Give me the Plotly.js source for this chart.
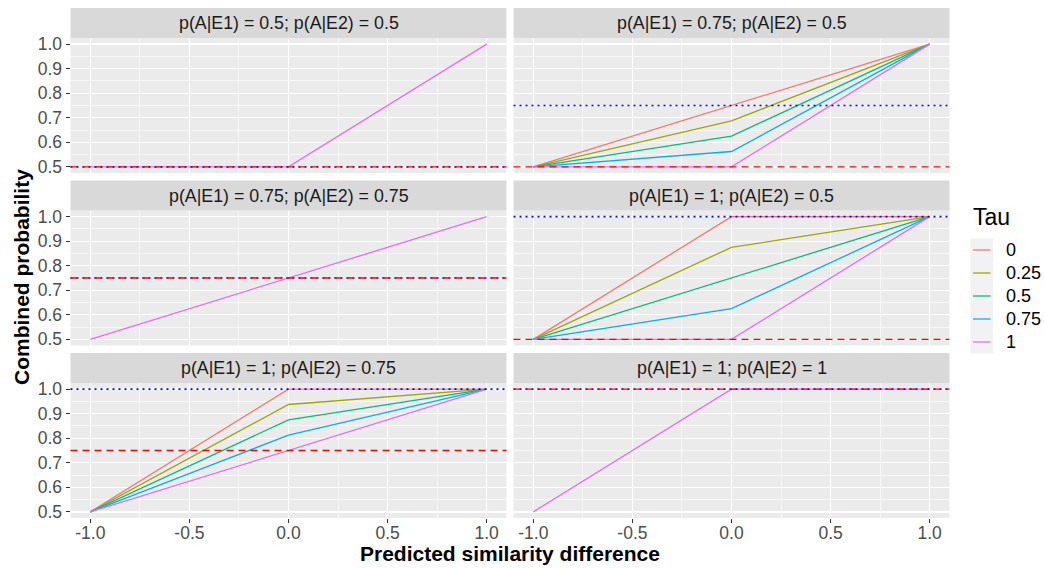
<!DOCTYPE html>
<html>
<head>
<meta charset="utf-8">
<script src="https://cdn.plot.ly/plotly-3.0.1.min.js"></script>
<style>
  html, body { margin: 0; padding: 0; background: #ffffff; }
  #chart { width: 1044px; height: 568px; }
</style>
</head>
<body>
<div id="chart"></div>
<script>
// ---------------- data ----------------
const xVals = [-1, 0, 1];
const tauLabels = ['0', '0.25', '0.5', '0.75', '1'];
const pE1 = [0.5, 0.75, 0.75, 1, 1, 1];
const pE2 = [0.5, 0.5, 0.75, 0.5, 0.75, 1];

// combined probability per panel, one row per tau (0, 0.25, 0.5, 0.75, 1), columns = xVals
const panel1 = [[0.5, 0.5, 1.0], [0.5, 0.5, 1.0], [0.5, 0.5, 1.0], [0.5, 0.5, 1.0], [0.5, 0.5, 1.0]];
const panel2 = [[0.5, 0.75, 1.0], [0.5, 0.6875, 1.0], [0.5, 0.625, 1.0], [0.5, 0.5625, 1.0], [0.5, 0.5, 1.0]];
const panel3 = [[0.5, 0.75, 1.0], [0.5, 0.75, 1.0], [0.5, 0.75, 1.0], [0.5, 0.75, 1.0], [0.5, 0.75, 1.0]];
const panel4 = [[0.5, 1.0, 1.0], [0.5, 0.875, 1.0], [0.5, 0.75, 1.0], [0.5, 0.625, 1.0], [0.5, 0.5, 1.0]];
const panel5 = [[0.5, 1.0, 1.0], [0.5, 0.9375, 1.0], [0.5, 0.875, 1.0], [0.5, 0.8125, 1.0], [0.5, 0.75, 1.0]];
const panel6 = [[0.5, 1.0, 1.0], [0.5, 1.0, 1.0], [0.5, 1.0, 1.0], [0.5, 1.0, 1.0], [0.5, 1.0, 1.0]];
const panels = [panel1, panel2, panel3, panel4, panel5, panel6];

const xTickVals = [-1, -0.5, 0, 0.5, 1];
const xTickText = ['-1.0', '-0.5', '0.0', '0.5', '1.0'];
const xMinorVals = [-0.75, -0.25, 0.25, 0.75];
const yTickVals = [0.5, 0.6, 0.7, 0.8, 0.9, 1.0];
const yTickText = ['0.5', '0.6', '0.7', '0.8', '0.9', '1.0'];
const yMinorVals = [0.55, 0.65, 0.75, 0.85, 0.95];

// ---------------- styles / geometry ----------------
const tauColors = ['#F8766D', '#A3A500', '#00BF7D', '#00B0F6', '#E76BF3'];
const W = 1044, H = 568;
const FONT = 'Liberation Sans, Arial, Helvetica, sans-serif';
const colPx = [[70.5, 506.5], [513.5, 949.5]];
const rowPx = [[38, 173], [210.5, 345.5], [383, 518]];
const stripPx = [[8, 38], [180.5, 210.5], [353, 383]];
const px2x = p => p / W;
const px2y = p => 1 - p / H;

const data = [];
const layout = {
  width: W, height: H,
  margin: {l: 0, r: 0, t: 0, b: 0, pad: 0},
  paper_bgcolor: '#FFFFFF',
  plot_bgcolor: '#EBEBEB',
  font: {family: FONT, color: '#4D4D4D', size: 17.5},
  showlegend: false,
  shapes: [],
  annotations: []
};

// ---------------- legend (ggplot-style guide) ----------------
const legKeyTop = 238.5, legKeyH = 23, legKeyX0 = 970.5, legKeyX1 = 993;
layout.shapes.push({
  type: 'rect', xref: 'paper', yref: 'paper', layer: 'below',
  x0: px2x(legKeyX0), x1: px2x(legKeyX1),
  y0: px2y(legKeyTop + legKeyH * tauLabels.length), y1: px2y(legKeyTop),
  fillcolor: '#F2F2F2', line: {width: 0}
});
layout.annotations.push({
  xref: 'paper', yref: 'paper', x: px2x(971), y: px2y(217),
  xanchor: 'left', yanchor: 'middle', showarrow: false,
  text: 'Tau', font: {family: FONT, size: 23, color: '#000000'}
});
tauLabels.forEach((lab, j) => {
  const yc = legKeyTop + legKeyH * (j + 0.5);
  layout.shapes.push({
    type: 'line', xref: 'paper', yref: 'paper', layer: 'above',
    x0: px2x(legKeyX0 + 2.5), x1: px2x(legKeyX1 - 2.5), y0: px2y(yc), y1: px2y(yc),
    line: {color: tauColors[j], width: 1.3}
  });
  layout.annotations.push({
    xref: 'paper', yref: 'paper', x: px2x(1003.5), y: px2y(yc),
    xanchor: 'left', yanchor: 'middle', showarrow: false,
    text: lab, font: {family: FONT, size: 18, color: '#000000'}
  });
});

// ---------------- panels ----------------
panels.forEach((vals, i) => {
  const col = i % 2, row = Math.floor(i / 2);
  const n = i + 1;
  const xa = 'xaxis' + (n === 1 ? '' : n), ya = 'yaxis' + (n === 1 ? '' : n);
  const xr = 'x' + (n === 1 ? '' : n), yr = 'y' + (n === 1 ? '' : n);
  const bottom = row === 2, left = col === 0;

  layout[xa] = {
    domain: [px2x(colPx[col][0]), px2x(colPx[col][1])],
    anchor: yr,
    range: [-1.1, 1.1],
    tickmode: 'array', tickvals: xTickVals, ticktext: xTickText,
    showticklabels: bottom,
    ticks: bottom ? 'outside' : '', ticklen: 4, tickwidth: 1.1, tickcolor: '#333333',
    ticklabelstandoff: -5,
    tickfont: {family: FONT, size: 17.5, color: '#4D4D4D'},
    showgrid: true, gridcolor: '#FFFFFF', gridwidth: 1.3,
    minor: {tickmode: 'array', tickvals: xMinorVals, showgrid: true, gridcolor: '#FFFFFF', gridwidth: 0.6, ticks: ''},
    zeroline: false, showline: false, fixedrange: true
  };
  layout[ya] = {
    domain: [px2y(rowPx[row][1]), px2y(rowPx[row][0])],
    anchor: xr,
    range: [0.475, 1.025],
    tickmode: 'array', tickvals: yTickVals, ticktext: yTickText,
    showticklabels: left,
    ticks: left ? 'outside' : '', ticklen: 4, tickwidth: 1.1, tickcolor: '#333333',
    tickfont: {family: FONT, size: 17.5, color: '#4D4D4D'},
    showgrid: true, gridcolor: '#FFFFFF', gridwidth: 1.3,
    minor: {tickmode: 'array', tickvals: yMinorVals, showgrid: true, gridcolor: '#FFFFFF', gridwidth: 0.6, ticks: ''},
    zeroline: false, showline: false, fixedrange: true
  };

  // tau lines (a line that is exactly covered by a later, identical line is not drawn)
  vals.forEach((yv, j) => {
    const hidden = vals.slice(j + 1).some(other => other.every((v, k) => v === yv[k]));
    if (hidden) return;
    data.push({
      type: 'scatter', mode: 'lines',
      x: xVals, y: yv,
      xaxis: xr, yaxis: yr,
      name: tauLabels[j],
      line: {color: tauColors[j], width: 1.3},
      hoverinfo: 'skip'
    });
  });

  // reference lines: blue dotted at p(A|E1), red dashed at p(A|E2)
  layout.shapes.push({
    type: 'line', xref: xr + ' domain', yref: yr, layer: 'above',
    x0: 0, x1: 1, y0: pE1[i], y1: pE1[i],
    line: {color: '#0000FF', width: 1.6, dash: '2px,4px'}
  });
  layout.shapes.push({
    type: 'line', xref: xr + ' domain', yref: yr, layer: 'above',
    x0: 0, x1: 1, y0: pE2[i], y1: pE2[i],
    line: {color: '#FF0000', width: 1.4, dash: '7px,5px'}
  });

  // strip
  layout.shapes.push({
    type: 'rect', xref: 'paper', yref: 'paper', layer: 'below',
    x0: px2x(colPx[col][0]), x1: px2x(colPx[col][1]),
    y0: px2y(stripPx[row][1]), y1: px2y(stripPx[row][0]),
    fillcolor: '#D9D9D9', line: {width: 0}
  });
  layout.annotations.push({
    xref: 'paper', yref: 'paper',
    x: px2x((colPx[col][0] + colPx[col][1]) / 2),
    y: px2y((stripPx[row][0] + stripPx[row][1]) / 2),
    xanchor: 'center', yanchor: 'middle', showarrow: false,
    text: 'p(A|E1) = ' + pE1[i] + '; p(A|E2) = ' + pE2[i],
    font: {family: FONT, size: 17.8, color: '#1A1A1A'}
  });
});

// axis titles
layout.annotations.push({
  xref: 'paper', yref: 'paper',
  x: px2x((colPx[0][0] + colPx[1][1]) / 2), y: px2y(553),
  xanchor: 'center', yanchor: 'middle', showarrow: false,
  text: '<b>Predicted similarity difference</b>',
  font: {family: FONT, size: 21, color: '#000000'}
});
layout.annotations.push({
  xref: 'paper', yref: 'paper',
  x: px2x(21), y: px2y(277),
  xanchor: 'center', yanchor: 'middle', showarrow: false, textangle: -90,
  text: '<b>Combined probability</b>',
  font: {family: FONT, size: 21, color: '#000000'}
});

Plotly.newPlot('chart', data, layout, {staticPlot: true, displayModeBar: false});
</script>
</body>
</html>
